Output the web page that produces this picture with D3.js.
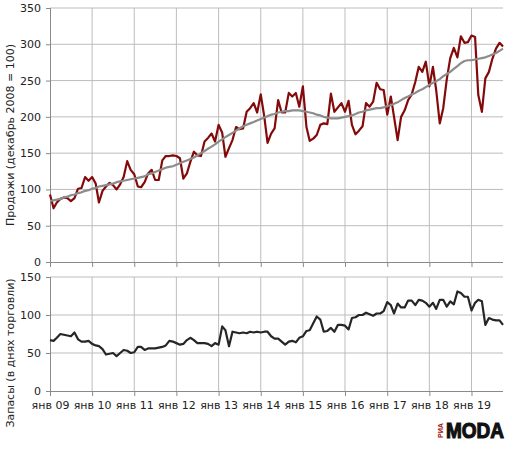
<!DOCTYPE html>
<html>
<head>
<meta charset="utf-8">
<script src="https://cdn.jsdelivr.net/npm/d3@7"></script>
<style>
    body { margin: 0; background: #fff; }
    svg { display: block; font-family: 'DejaVu Sans', Verdana, sans-serif; }
</style>
</head>
<body>
<svg id="chart" width="522" height="451"></svg>
<script>
// monthly series, first point = январь 2009
var startYear = 2009;
var sales = [
    93, 74, 82, 87, 89, 88, 84, 88, 101, 102, 117, 112,
    117, 108, 82, 98, 104, 109, 106, 100, 107, 117, 139, 127,
    121, 104, 103, 110, 122, 127, 113, 113, 140, 146, 146, 147,
    146, 143, 115, 122, 138, 152, 147, 146, 166, 171, 177, 166,
    189, 178, 145, 157, 168, 186, 183, 184, 207, 212, 219, 206,
    231, 200, 164, 177, 184, 223, 206, 206, 233, 228, 233, 214,
    242, 186, 167, 170, 175, 189, 191, 190, 232, 207, 213, 219,
    207, 222, 189, 176, 181, 187, 219, 214, 221, 247, 238, 237,
    203, 228, 200, 168, 200, 209, 223, 231, 248, 269, 262, 276,
    242, 269, 237, 191, 212, 252, 281, 295, 282, 311, 302, 303,
    312, 310, 230, 207, 253, 262, 280, 294, 302, 297
];
var salesTrend = [
    84, 85, 86, 87, 89, 90, 92, 93, 95, 96, 98, 99,
    101, 102, 104, 105, 106, 107, 108, 110, 111, 112, 113, 114,
    115, 116, 117, 118, 121, 122, 124, 126, 128, 130, 131, 132,
    134, 136, 138, 140, 142, 144, 147, 150, 153, 156, 159, 162,
    166, 169, 172, 175, 178, 181, 184, 187, 189, 191, 193, 195,
    197, 199, 201, 203, 204, 206, 207, 208, 208, 209, 209, 209,
    208, 207, 206, 205, 203, 202, 200, 199, 198, 198, 198, 199,
    200, 201, 202, 204, 206, 207, 209, 210, 211, 212, 212, 213,
    215, 216, 218, 220, 223, 226, 228, 231, 233, 236, 238, 241,
    244, 247, 249, 252, 256, 259, 262, 266, 270, 274, 277, 278,
    278, 279, 280, 281, 282, 284, 286, 288, 291, 294
];
var stocks = [
    67, 66, 70, 75, 74, 73, 72, 77, 68, 65, 65, 66,
    62, 60, 59, 55, 48, 49, 50, 46, 50, 54, 53, 50,
    51, 58, 58, 54, 56, 56, 56, 57, 58, 60, 66, 65,
    63, 61, 62, 67, 70, 67, 63, 63, 63, 62, 59, 63,
    61, 85, 80, 59, 78, 77, 76, 77, 76, 78, 77, 78,
    77, 78, 78, 72, 69, 69, 65, 61, 65, 66, 64, 70,
    72, 79, 80, 89, 98, 94, 78, 79, 83, 78, 87, 87,
    86, 81, 96, 97, 100, 100, 103, 101, 99, 102, 102, 105,
    117, 113, 102, 115, 110, 110, 119, 119, 113, 120, 119, 116,
    111, 116, 108, 120, 120, 111, 118, 114, 131, 129, 124, 124,
    106, 116, 120, 118, 87, 96, 94, 93, 93, 87
];
var salesTicks = [0, 50, 100, 150, 200, 250, 300, 350];
var stockTicks = [0, 50, 100, 150];
var yearLabels = ['янв 09', 'янв 10', 'янв 11', 'янв 12', 'янв 13', 'янв 14',
    'янв 15', 'янв 16', 'янв 17', 'янв 18', 'янв 19'];
var salesTitle = 'Продажи (декабрь 2008 = 100)';
var stockTitle = 'Запасы (в днях торговли)';

var svg = d3.select('#chart');

var left = 50, right = 503;
var top1 = 8, bottom1 = 262;
var top2 = 277, bottom2 = 391;

var dates = sales.map(function(d, i) { return new Date(startYear, i, 1); });
var yearDates = yearLabels.map(function(d, i) { return new Date(startYear + i, 0, 1); });

var x = d3.scaleTime()
    .domain([new Date(startYear, 0, 1), new Date(startYear + 10, 9, 1)])
    .range([left, right]);
var ySales = d3.scaleLinear().domain([0, 350]).range([bottom1, top1]);
var yStock = d3.scaleLinear().domain([0, 150]).range([bottom2, top2]);

var gridColor = '#bdbdbd', axisColor = '#8a8a8a', textColor = '#222';

function drawPanel(y, ticks, yTop, yBottom) {
    // horizontal grid
    svg.append('g')
        .selectAll('line')
        .data(ticks.filter(function(t) { return t > 0; }))
        .join('line')
        .attr('x1', left).attr('x2', right)
        .attr('y1', function(d) { return y(d); })
        .attr('y2', function(d) { return y(d); })
        .attr('stroke', gridColor);

    // vertical grid
    svg.append('g')
        .selectAll('line')
        .data(yearDates.slice(1))
        .join('line')
        .attr('x1', function(d) { return x(d); })
        .attr('x2', function(d) { return x(d); })
        .attr('y1', yTop).attr('y2', yBottom)
        .attr('stroke', gridColor);

    var yAxis = svg.append('g')
        .attr('transform', 'translate(' + left + ',0)')
        .call(d3.axisLeft(y).tickValues(ticks).tickSize(4).tickPadding(5));
    yAxis.select('.domain').attr('stroke', axisColor).attr('d', 'M0.5,' + yTop + 'V' + yBottom);
    yAxis.selectAll('.tick line').attr('stroke', axisColor);
    yAxis.selectAll('.tick text')
        .attr('font-size', '11px')
        .attr('font-family', "'DejaVu Sans', Verdana, sans-serif")
        .attr('fill', textColor);

    var xAxis = svg.append('g')
        .attr('transform', 'translate(0,' + yBottom + ')')
        .call(d3.axisBottom(x).tickValues(yearDates).tickSize(5).tickFormat(''));
    xAxis.select('.domain').attr('stroke', axisColor).attr('d', 'M' + left + ',0.5H' + right);
    xAxis.selectAll('.tick line').attr('stroke', axisColor);
    return xAxis;
}

drawPanel(ySales, salesTicks, top1, bottom1);
var xAxis2 = drawPanel(yStock, stockTicks, top2, bottom2);

xAxis2.selectAll('.tick text')
    .data(yearLabels)
    .text(function(d) { return d; })
    .attr('dy', '0.71em')
    .attr('y', 10)
    .attr('font-size', '11px')
    .attr('font-family', "'DejaVu Sans', Verdana, sans-serif")
    .attr('fill', textColor);

// lines
var lineSales = d3.line()
    .x(function(d, i) { return x(dates[i]); })
    .y(function(d) { return ySales(d); });
var lineStock = d3.line()
    .x(function(d, i) { return x(dates[i]); })
    .y(function(d) { return yStock(d); });

svg.append('path')
    .datum(sales)
    .attr('d', lineSales)
    .attr('fill', 'none')
    .attr('stroke', '#840a0a')
    .attr('stroke-width', 2.2)
    .attr('stroke-linejoin', 'round');

svg.append('path')
    .datum(salesTrend)
    .attr('d', lineSales)
    .attr('fill', 'none')
    .attr('stroke', '#8c8c8c')
    .attr('stroke-width', 2.2)
    .attr('stroke-linejoin', 'round');

svg.append('path')
    .datum(stocks)
    .attr('d', lineStock)
    .attr('fill', 'none')
    .attr('stroke', '#262626')
    .attr('stroke-width', 2.2)
    .attr('stroke-linejoin', 'round');

// axis titles
svg.append('text')
    .attr('transform', 'translate(14,' + ((top1 + bottom1) / 2) + ') rotate(-90)')
    .attr('text-anchor', 'middle')
    .attr('font-size', '11px')
    .attr('fill', textColor)
    .text(salesTitle);

svg.append('text')
    .attr('transform', 'translate(14,353) rotate(-90)')
    .attr('text-anchor', 'middle')
    .attr('font-size', '11px')
    .attr('fill', textColor)
    .text(stockTitle);

// logo
var logo = svg.append('g').attr('transform', 'translate(434,438)');
logo.append('text')
    .attr('transform', 'translate(9,0) rotate(-90)')
    .attr('font-family', "'Liberation Sans', Arial, sans-serif")
    .attr('font-weight', 'bold')
    .attr('font-size', '8px')
    .attr('fill', '#a01515')
    .attr('textLength', 15)
    .attr('lengthAdjust', 'spacingAndGlyphs')
    .text('РИА');
logo.append('text')
    .attr('x', 12)
    .attr('font-family', "'Liberation Sans', Arial, sans-serif")
    .attr('font-weight', 'bold')
    .attr('font-size', '22px')
    .attr('fill', '#111')
    .attr('stroke', '#111')
    .attr('stroke-width', 1.2)
    .attr('textLength', 58)
    .attr('lengthAdjust', 'spacingAndGlyphs')
    .text('MODA');
</script>
</body>
</html>
